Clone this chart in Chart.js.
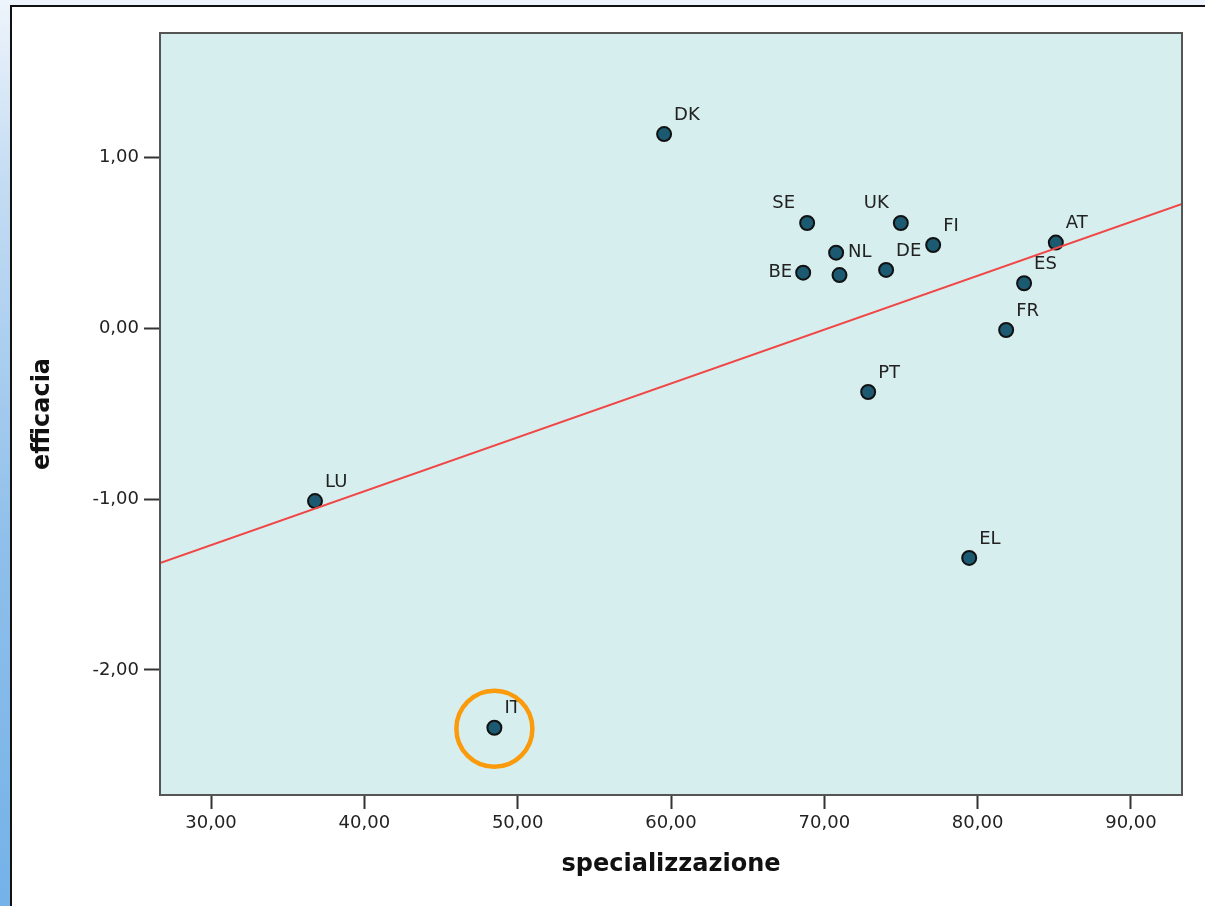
<!DOCTYPE html>
<html lang="it">
<head>
<meta charset="UTF-8">
<title>efficacia vs specializzazione</title>
<style>
  html, body { margin: 0; padding: 0; background: #fff; overflow: hidden; }
  #strip { position: absolute; left: 0; top: 0; width: 10px; height: 906px;
           background: linear-gradient(#eef4fb 0%, #c4dcf3 20%, #8fbfea 60%, #74b2e8 100%); }
  #topbar { position: absolute; left: 0; top: 0; width: 1205px; height: 5px; background: #eef4fb; }
  #frame { position: absolute; left: 10px; top: 5px; width: 1195px; height: 901px;
           border-left: 2px solid #111; border-top: 2px solid #111; background: #fff; box-sizing: border-box; }
  canvas { position: absolute; left: 0; top: 0; }
</style>
</head>
<body>
<div id="strip"></div>
<div id="topbar"></div>
<div id="frame"></div>
<canvas id="grafico" width="1205" height="906"></canvas>

<script src="https://cdn.jsdelivr.net/npm/chart.js"></script>
<script>
// dati
const paesi = ['DK', 'SE', 'UK', 'FI', 'NL', 'DE', 'BE', '', 'AT', 'ES', 'FR', 'PT', 'LU', 'EL', 'IT']
const specializzazione = [59.55, 68.88, 74.99, 77.10, 70.77, 74.03, 68.62, 70.99, 85.10, 83.03, 81.86, 72.86, 36.78, 79.45, 48.48]
const efficacia = [1.139, 0.618, 0.618, 0.489, 0.444, 0.343, 0.327, 0.313, 0.503, 0.265, -0.009, -0.372, -1.011, -1.344, -2.339]

// retta di regressione (estremi)
const rettaX = [26.67, 93.33]
const rettaY = [-1.374, 0.729]

const tickX = [30, 40, 50, 60, 70, 80, 90]
const tickY = [-2, -1, 0, 1]

const evidenziato = 'IT'

// posizione delle etichette: lu = sopra a sinistra, r = destra, l = sinistra, default sopra a destra
const posEtichetta = { SE: 'lu', UK: 'lu', NL: 'r', BE: 'l' }

const formatta = v => v.toFixed(2).replace('.', ',')

const sfondoPlugin = {
    id: 'sfondo',
    beforeDraw(chart) {
        const { ctx, chartArea: a } = chart
        ctx.save()
        ctx.fillStyle = '#d6efee'
        ctx.fillRect(a.left, a.top, a.right - a.left, a.bottom - a.top)
        ctx.restore()
    },
    afterDraw(chart) {
        const { ctx, chartArea: a } = chart
        ctx.save()
        ctx.strokeStyle = '#555'
        ctx.lineWidth = 2
        ctx.strokeRect(a.left, a.top, a.right - a.left, a.bottom - a.top)

        // etichette dei paesi
        const meta = chart.getDatasetMeta(1)
        ctx.font = '18px "DejaVu Sans"'
        ctx.fillStyle = '#222'
        ctx.textBaseline = 'middle'
        meta.data.forEach((p, i) => {
            const nome = paesi[i]
            if (!nome) return
            const pos = posEtichetta[nome] || 'ru'
            if (pos === 'lu') { ctx.textAlign = 'right'; ctx.fillText(nome, p.x - 12, p.y - 20) }
            else if (pos === 'r') { ctx.textAlign = 'left'; ctx.fillText(nome, p.x + 12, p.y) }
            else if (pos === 'l') { ctx.textAlign = 'right'; ctx.fillText(nome, p.x - 11, p.y) }
            else { ctx.textAlign = 'left'; ctx.fillText(nome, p.x + 10, p.y - 19) }
            if (nome === evidenziato) {
                ctx.beginPath()
                ctx.strokeStyle = '#fb9a0a'
                ctx.lineWidth = 4.5
                ctx.arc(p.x, p.y + 1, 38, 0, Math.PI * 2)
                ctx.stroke()
            }
        })
        ctx.restore()
    }
}

new Chart(document.querySelector('#grafico'), {
    type: 'scatter',
    data: {
        datasets: [{
            type: 'line',
            data: rettaX.map((x, i) => ({ x: x, y: rettaY[i] })),
            borderColor: '#f04646',
            borderWidth: 2,
            pointRadius: 0,
            fill: false,
            order: 0
        }, {
            data: specializzazione.map((x, i) => ({ x: x, y: efficacia[i] })),
            backgroundColor: '#1c5a72',
            borderColor: '#111',
            borderWidth: 2,
            pointRadius: 7,
            order: 1
        }]
    },
    plugins: [sfondoPlugin],
    options: {
        responsive: false,
        devicePixelRatio: 1,
        animation: false,
        layout: { padding: { top: 33, right: 23, left: 0, bottom: 0 } },
        plugins: { legend: { display: false }, tooltip: { enabled: false } },
        scales: {
            x: {
                type: 'linear',
                min: 26.67,
                max: 93.33,
                afterFit(s) { s.height = 111 },
                afterBuildTicks(s) { s.ticks = tickX.map(v => ({ value: v })) },
                border: { display: false },
                grid: { drawOnChartArea: false, drawTicks: true, tickLength: 14, tickWidth: 2, tickColor: '#333' },
                ticks: { callback: formatta, color: '#222', padding: 4, maxRotation: 0, font: { family: 'DejaVu Sans', size: 18 } },
                title: { display: true, text: 'specializzazione', color: '#111', padding: { top: 0, bottom: 27 },
                         font: { family: 'DejaVu Sans', size: 24, weight: 'bold' } }
            },
            y: {
                type: 'linear',
                min: -2.733,
                max: 1.731,
                afterFit(s) { s.width = 160 },
                afterBuildTicks(s) { s.ticks = tickY.map(v => ({ value: v })) },
                border: { display: false },
                grid: { drawOnChartArea: false, drawTicks: true, tickLength: 16, tickWidth: 2, tickColor: '#333' },
                ticks: { callback: formatta, color: '#222', padding: 5, font: { family: 'DejaVu Sans', size: 18 } },
                title: { display: true, text: 'efficacia', color: '#111', padding: { top: 28, bottom: 0 },
                         font: { family: 'DejaVu Sans', size: 24, weight: 'bold' } }
            }
        }
    }
})
</script>
</body>
</html>
